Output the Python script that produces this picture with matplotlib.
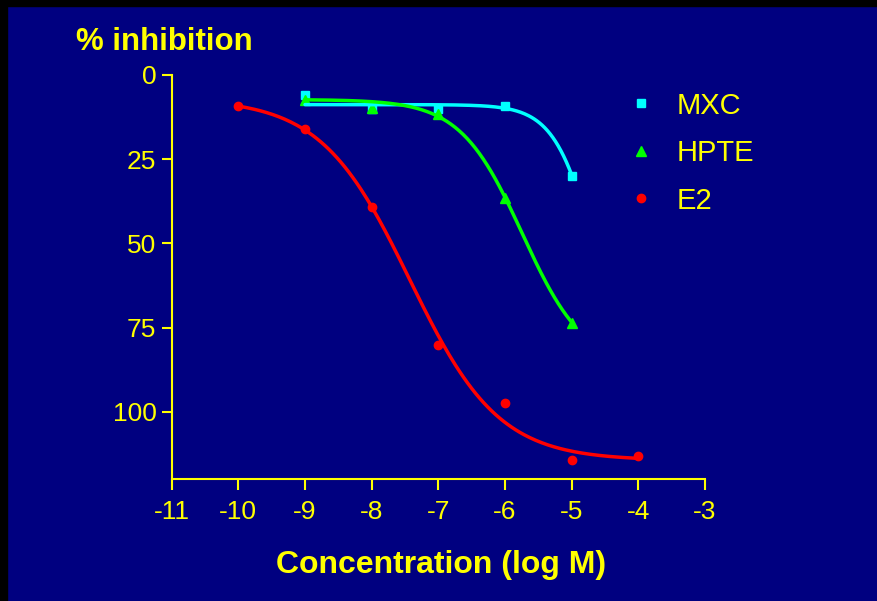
import numpy as np
import matplotlib
matplotlib.use("Agg")
import matplotlib.pyplot as plt
from matplotlib import font_manager
from matplotlib.patches import Rectangle

# ── Data ──────────────────────────────────────────────────────────────────
mxc_x = [-9, -8, -7, -6, -5]
mxc_y = [5.9, 10.2, 10.0, 9.2, 30.0]

hpte_x = [-9, -8, -7, -6, -5]
hpte_y = [7.4, 9.8, 11.6, 36.5, 73.8]

e2_x = [-10, -9, -8, -7, -6, -5, -4]
e2_y = [9.2, 16.1, 39.2, 80.3, 97.4, 114.5, 113.2]

# 4PL fit parameters per series: top, bottom, logEC50, hill slope, x range
mxc_fit = (8.8, 100.0, -4.62, 1.39, -9, -5)
hpte_fit = (7.3, 87.0, -5.74, 0.93, -9, -5)
e2_fit = (7.0, 114.5, -7.43, 0.65, -10, -4)

x_ticks = list(range(-11, -2))
y_ticks = [0, 25, 50, 75, 100]

BG = "#000080"
YELLOW = "#FFFF00"

names = {f.name for f in font_manager.fontManager.ttflist}
FONT = "Liberation Sans Narrow" if "Liberation Sans Narrow" in names else "Liberation Sans"
plt.rcParams["font.family"] = [FONT, "DejaVu Sans"]


def _logistic(fit, n=200):
    top, bottom, ec50, hill, x0, x1 = fit
    xs = np.linspace(x0, x1, n)
    return xs, bottom + (top - bottom) / (1 + 10 ** ((xs - ec50) * hill))


fig = plt.figure(figsize=(8.78, 6.01), dpi=100, facecolor=BG)
ax = fig.add_axes([171.7 / 878, 1 - 479 / 601, (705 - 171.7) / 878, (479 - 75) / 601])
ax.set_facecolor(BG)

series = [
    ("MXC", mxc_x, mxc_y, mxc_fit, "#00FFFF", "s", 6),
    ("HPTE", hpte_x, hpte_y, hpte_fit, "#00FF00", "^", 6.5),
    ("E2", e2_x, e2_y, e2_fit, "#FF0000", "o", 6),
]

handles = []
for name, xs, ys, fit, color, marker, ms in series:
    h, = ax.plot(xs, ys, linestyle="none", marker=marker, markersize=ms,
                 color=color, label=name, zorder=2)
    handles.append(h)
for name, xs, ys, fit, color, marker, ms in series:
    cx, cy = _logistic(fit)
    ax.plot(cx, cy, color=color, linewidth=2.5, solid_capstyle="round", zorder=3)

ax.set_xlim(-11, -3)
ax.set_ylim(120, 0)
ax.set_xticks(x_ticks)
ax.set_xticklabels([str(t) for t in x_ticks])
ax.set_yticks(y_ticks)

for side in ("top", "right"):
    ax.spines[side].set_visible(False)
for side in ("left", "bottom"):
    ax.spines[side].set_color(YELLOW)
    ax.spines[side].set_linewidth(1.5)
ax.spines["left"].set_bounds(120, 0)

ax.tick_params(axis="both", colors=YELLOW, width=1.5, labelsize=19)
ax.tick_params(axis="y", length=7, pad=4)
ax.tick_params(axis="x", length=8, pad=7)

fig.text(76 / 878, 1 - 50 / 601, "% inhibition", color=YELLOW, fontsize=22.5,
         fontweight="bold", ha="left", va="baseline")
fig.text(441 / 878, 1 - 573 / 601, "Concentration (log M)", color=YELLOW,
         fontsize=23, fontweight="bold", ha="center", va="baseline")

leg = ax.legend(handles=handles, loc="upper left",
                bbox_to_anchor=(626 / 878, 1 - 91.5 / 601),
                bbox_transform=fig.transFigure, frameon=False, fontsize=21,
                handlelength=1.0, handletextpad=0.75, labelspacing=0.67,
                borderpad=0, borderaxespad=0, numpoints=1)
for t in leg.get_texts():
    t.set_color(YELLOW)

# black frame on top and left edges
fig.patches.append(Rectangle((0, 1 - 6 / 601), 1, 6 / 601, transform=fig.transFigure,
                             color="black", zorder=10))
fig.patches.append(Rectangle((0, 0), 7 / 878, 1, transform=fig.transFigure,
                             color="black", zorder=10))

fig.savefig("out.png", dpi=100, facecolor=BG)
